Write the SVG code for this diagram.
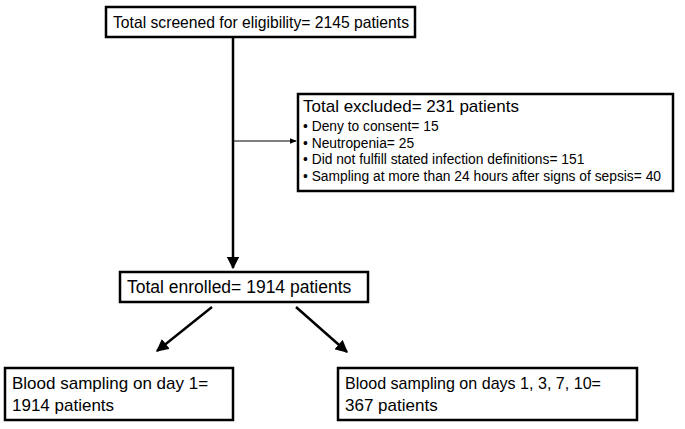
<svg xmlns="http://www.w3.org/2000/svg" width="685" height="429" viewBox="0 0 685 429">
<defs>
<style>
.box{fill:#fff;stroke:#000;stroke-width:2.5}
.t{font-family:"Liberation Sans",Arial,sans-serif;fill:#000}
.big{font-size:17px}
.small{font-size:13.8px}
.ln{stroke:#000;stroke-width:2.5;fill:none}
.thin{stroke:#000;stroke-width:1.2;fill:none}
</style>
<marker id="ah" viewBox="0 0 10 10" refX="9" refY="5" markerWidth="5" markerHeight="5" orient="auto" markerUnits="strokeWidth"><path d="M0,0 L10,5 L0,10 z" fill="#000"/></marker>
<marker id="ahs" viewBox="0 0 10 10" refX="9" refY="5" markerWidth="6" markerHeight="6" orient="auto" markerUnits="strokeWidth"><path d="M0,1 L10,5 L0,9 z" fill="#000"/></marker>
</defs>
<rect width="685" height="429" fill="#fff"/>
<g id="connectors">
<line class="ln" x1="233" y1="37" x2="233" y2="268" marker-end="url(#ah)"/>
<line class="thin" x1="233" y1="141" x2="296" y2="141" marker-end="url(#ahs)"/>
<line class="ln" x1="212" y1="307" x2="157" y2="351" marker-end="url(#ah)"/>
<line class="ln" x1="296" y1="307" x2="347" y2="352" marker-end="url(#ah)"/>
</g>
<g id="screened">
<rect class="box" x="106" y="7" width="309" height="30"/>
<text class="t" font-size="16.5" x="113" y="28" textLength="296" lengthAdjust="spacingAndGlyphs">Total screened for eligibility= 2145 patients</text>
</g>
<g id="excluded">
<rect class="box" x="298" y="94" width="375" height="97"/>
<text class="t big" x="303" y="112">Total excluded= 231 patients</text>
<text class="t small" x="303" y="131">• Deny to consent= 15</text>
<text class="t small" x="303" y="148">• Neutropenia= 25</text>
<text class="t small" x="303" y="164">• Did not fulfill stated infection definitions= 151</text>
<text class="t small" x="303" y="181">• Sampling at more than 24 hours after signs of sepsis= 40</text>
</g>
<g id="enrolled">
<rect class="box" x="120" y="272" width="248" height="30"/>
<text class="t" font-size="17.5" x="127" y="293">Total enrolled= 1914 patients</text>
</g>
<g id="day1">
<rect class="box" x="5" y="368" width="228" height="52"/>
<text class="t big" x="12" y="389">Blood sampling on day 1=</text>
<text class="t big" x="12" y="411">1914 patients</text>
</g>
<g id="days">
<rect class="box" x="338" y="368" width="299" height="52"/>
<text class="t big" x="345" y="389" textLength="256" lengthAdjust="spacingAndGlyphs">Blood sampling on days 1, 3, 7, 10=</text>
<text class="t big" x="345" y="411">367 patients</text>
</g>
</svg>
